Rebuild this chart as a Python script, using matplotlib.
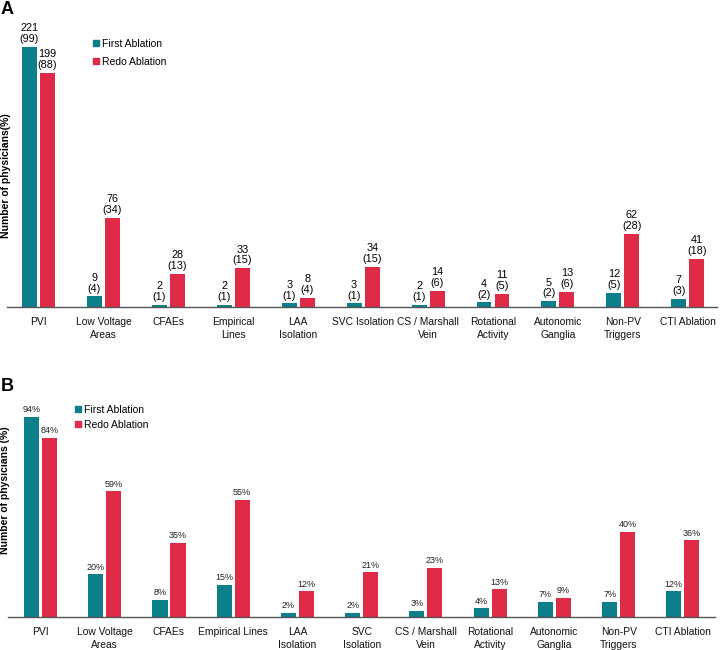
import matplotlib
matplotlib.use("Agg")
import matplotlib.pyplot as plt
import numpy as np
from matplotlib.lines import Line2D

plt.rcParams['font.family'] = ['Liberation Sans', 'DejaVu Sans']

cats_a = ["PVI", "Low Voltage\nAreas", "CFAEs", "Empirical\nLines", "LAA\nIsolation",
          "SVC Isolation", "CS / Marshall\nVein", "Rotational\nActivity", "Autonomic\nGanglia",
          "Non-PV\nTriggers", "CTI Ablation"]
cats_b = ["PVI", "Low Voltage\nAreas", "CFAEs", "Empirical Lines", "LAA\nIsolation",
          "SVC\nIsolation", "CS / Marshall\nVein", "Rotational\nActivity", "Autonomic\nGanglia",
          "Non-PV\nTriggers", "CTI Ablation"]

first_n = [221, 9, 2, 2, 3, 3, 2, 4, 5, 12, 7]
first_n_pct = [99, 4, 1, 1, 1, 1, 1, 2, 2, 5, 3]
redo_n = [199, 76, 28, 33, 8, 34, 14, 11, 13, 62, 41]
redo_n_pct = [88, 34, 13, 15, 4, 15, 6, 5, 6, 28, 18]

first_pct_b = [94, 20, 8, 15, 2, 2, 3, 4, 7, 7, 12]
redo_pct_b = [84, 59, 35, 55, 12, 21, 23, 13, 9, 40, 36]

TEAL = "#0B7F8A"
RED = "#DF2A48"

W, H = 720, 650
fig = plt.figure(figsize=(7.2, 6.5), dpi=100)

def px_axes(l, r, top, bottom):
    return fig.add_axes([l / W, 1 - bottom / H, (r - l) / W, (bottom - top) / H])

axA = px_axes(7, 717, 10, 307)
axB = px_axes(8, 715, 400, 617)

def style(ax, cats):
    for s in ["top", "right", "left"]:
        ax.spines[s].set_visible(False)
    ax.spines["bottom"].set_color("#555555")
    ax.spines["bottom"].set_linewidth(1.0)
    ax.set_yticks([])
    ax.set_xticks(np.arange(len(cats)))
    ax.set_xticklabels(cats, fontsize=7.4, color="#111111", linespacing=1.35)
    ax.tick_params(axis="x", length=0, pad=7)

x = np.arange(len(cats_a))
off = 0.139
bw = 0.23

# Panel A
axA.bar(x - off, first_n, bw, color=TEAL)
axA.bar(x + off, redo_n, bw, color=RED)
for xi, v, p in zip(x, first_n, first_n_pct):
    axA.annotate(f"{v}\n({p})", (xi - off, v), xytext=(0, 2), textcoords="offset points",
                 ha="center", va="bottom", fontsize=7.8, linespacing=1.1)
for xi, v, p in zip(x, redo_n, redo_n_pct):
    axA.annotate(f"{v}\n({p})", (xi + off, v), xytext=(0, 2), textcoords="offset points",
                 ha="center", va="bottom", fontsize=7.8, linespacing=1.1)
axA.set_xlim(-0.485, 10.45)
axA.set_ylim(0, 221 * (307 - 10) / 260)
style(axA, cats_a)

# Panel B
xb = np.arange(len(cats_b))
offb = 0.14
bwb = 0.235
axB.bar(xb - offb, first_pct_b, bwb, color=TEAL)
axB.bar(xb + offb, redo_pct_b, bwb, color=RED)
for xi, v in zip(xb, first_pct_b):
    axB.annotate(f"{v}%", (xi - offb, v), xytext=(0, 2), textcoords="offset points",
                 ha="center", va="bottom", fontsize=6.5, color="#222222")
for xi, v in zip(xb, redo_pct_b):
    axB.annotate(f"{v}%", (xi + offb, v), xytext=(0, 2), textcoords="offset points",
                 ha="center", va="bottom", fontsize=6.5, color="#222222")
axB.set_xlim(-0.506, 10.5)
axB.set_ylim(0, 94 * (617 - 400) / 200)
style(axB, cats_b)

handles = [Line2D([], [], marker="s", linestyle="none", color=TEAL, markersize=4.5),
           Line2D([], [], marker="s", linestyle="none", color=RED, markersize=4.5)]
labels = ["First Ablation", "Redo Ablation"]
fig.legend(handles, labels, loc="upper left", bbox_to_anchor=(94 / W, 1 - 39 / H),
           frameon=False, fontsize=7.5, handlelength=0.45, handletextpad=0.3,
           labelspacing=0.78, borderpad=0, borderaxespad=0)
fig.legend(handles, labels, loc="upper left", bbox_to_anchor=(76 / W, 1 - 405 / H),
           frameon=False, fontsize=7.5, handlelength=0.45, handletextpad=0.3,
           labelspacing=0.45, borderpad=0, borderaxespad=0)

fig.text(6 / W, 1 - 176 / H, "Number of physicians(%)", rotation=90, ha="center",
         va="center", fontsize=7.5, fontweight="bold")
fig.text(5 / W, 1 - 490 / H, "Number of physicians (%)", rotation=90, ha="center",
         va="center", fontsize=7.5, fontweight="bold")
fig.text(1 / W, 1 - 1 / H, "A", ha="left", va="top", fontsize=13, fontweight="bold")
fig.text(1 / W, 1 - 378 / H, "B", ha="left", va="top", fontsize=13, fontweight="bold")

fig.savefig("out.png", dpi=100)
